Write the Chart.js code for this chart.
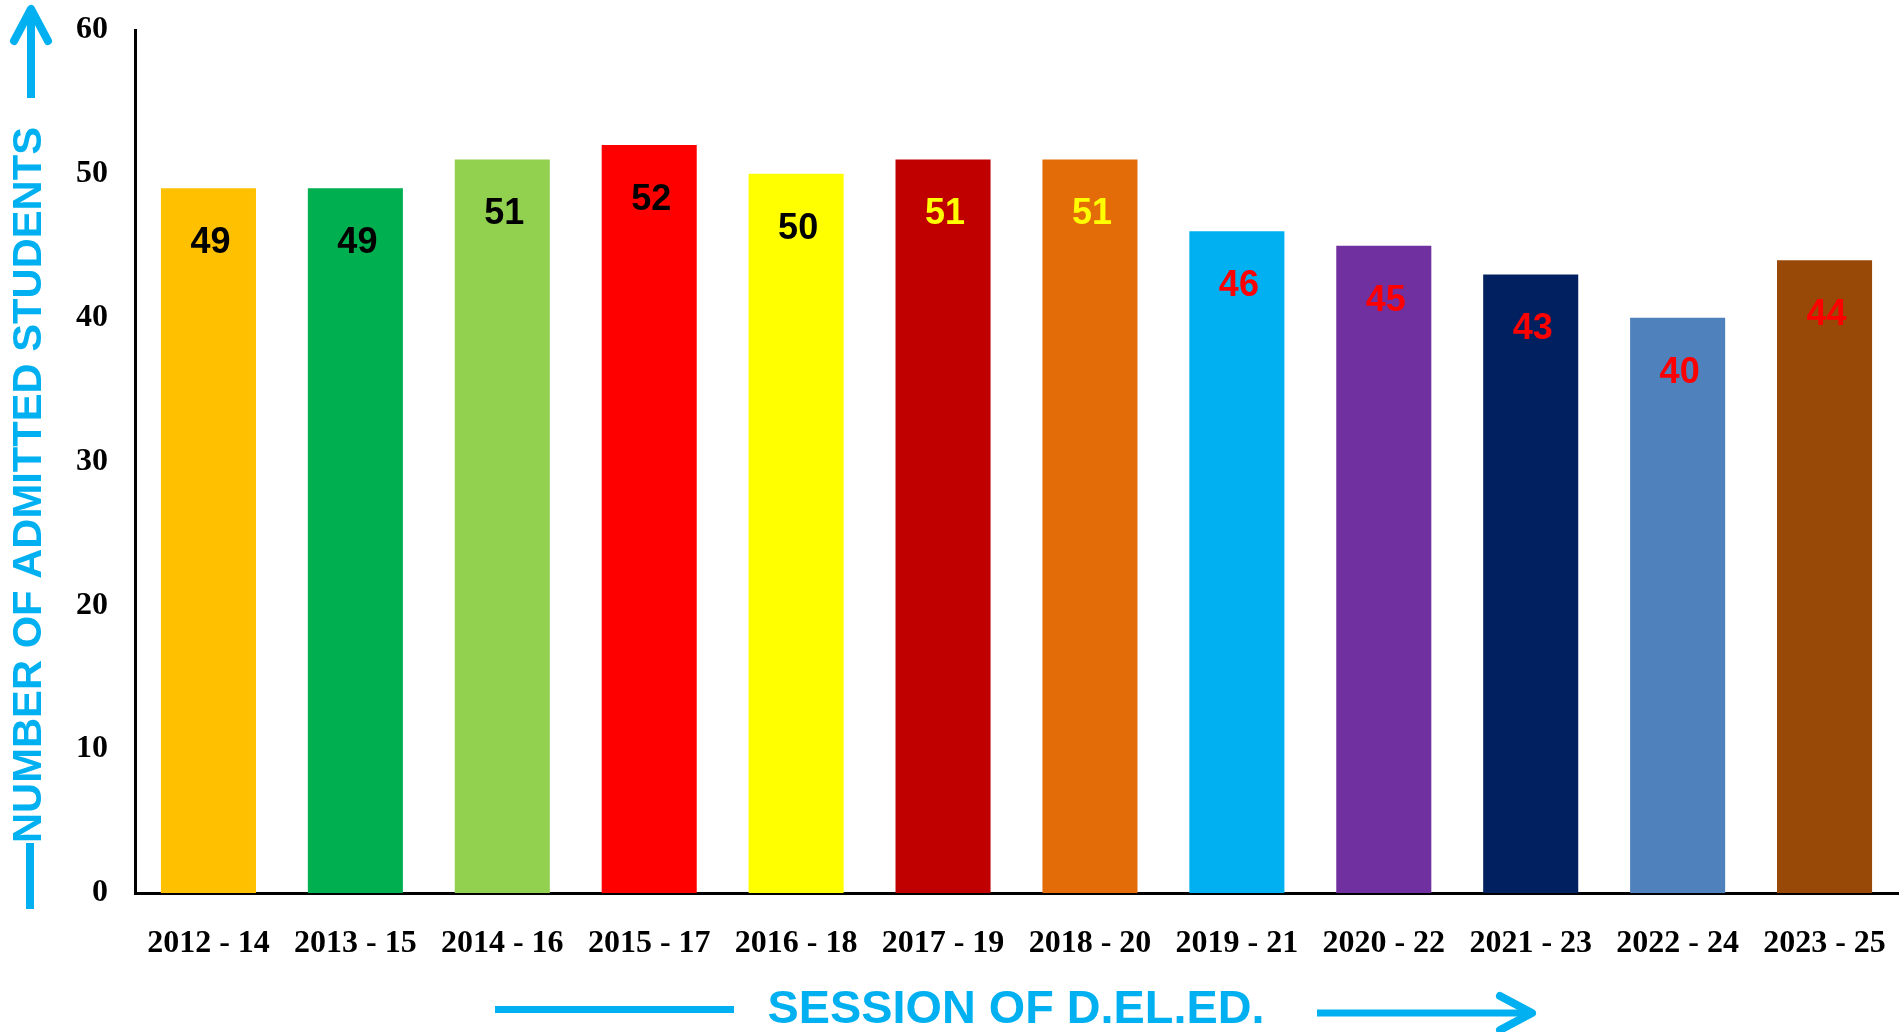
<!DOCTYPE html>
<html><head><meta charset="utf-8"><title>Admitted students per D.El.Ed. session</title>
<script src="https://cdn.jsdelivr.net/npm/chart.js"></script>
<style>
  html, body { margin: 0; padding: 0; background: #ffffff; overflow: hidden; }
  #wrap { position: relative; width: 1900px; height: 1032px; }
</style>
</head>
<body>
<div id="wrap"><canvas id="chart"></canvas></div>
<script>
const sessions = ["2012 - 14", "2013 - 15", "2014 - 16", "2015 - 17", "2016 - 18", "2017 - 19",
                  "2018 - 20", "2019 - 21", "2020 - 22", "2021 - 23", "2022 - 24", "2023 - 25"];
const admitted = [49, 49, 51, 52, 50, 51, 51, 46, 45, 43, 40, 44];
const barColors = ["#FFC000", "#00B050", "#92D050", "#FF0000", "#FFFF00", "#C00000",
                   "#E36C09", "#00B0F0", "#7030A0", "#002060", "#4F81BD", "#984807"];
const labelColors = ["#000000", "#000000", "#000000", "#000000", "#000000", "#FFFF00",
                     "#FFFF00", "#FF0000", "#FF0000", "#FF0000", "#FF0000", "#FF0000"];
const yTitle = "NUMBER OF ADMITTED STUDENTS";
const xTitle = "SESSION OF D.EL.ED.";

const BLUE = "#00B0F0";
const SERIF = "'Liberation Serif', 'Times New Roman', serif";
const SANS = "'Liberation Sans', Arial, sans-serif";

// value labels inside the bars
const valueLabels = {
  id: 'valueLabels',
  afterDatasetsDraw(chart) {
    const ctx = chart.ctx;
    const meta = chart.getDatasetMeta(0);
    ctx.save();
    ctx.font = "bold 36px " + SANS;
    ctx.textAlign = 'center';
    ctx.textBaseline = 'middle';
    meta.data.forEach((bar, i) => {
      ctx.fillStyle = labelColors[i];
      ctx.fillText(String(admitted[i]), bar.x + 2, bar.y + 55);
    });
    ctx.restore();
  }
};

function arrowHead(ctx, x, y, dx, dy) {
  // dx,dy: unit direction the arrow points to
  const len = 32, half = 17;
  const bx = x - dx * len, by = y - dy * len;
  ctx.beginPath();
  ctx.moveTo(bx - dy * half, by + dx * half);
  ctx.lineTo(x, y);
  ctx.lineTo(bx + dy * half, by - dx * half);
  ctx.stroke();
}

// axis titles with blue arrows
const axisTitles = {
  id: 'axisTitles',
  afterDraw(chart) {
    const ctx = chart.ctx;
    ctx.save();
    ctx.fillStyle = BLUE;
    ctx.strokeStyle = BLUE;
    ctx.lineWidth = 8;
    ctx.lineJoin = 'round';

    // y title, rotated
    const yx = 29, yc = 485, yLen = 716;
    ctx.save();
    ctx.translate(yx, yc);
    ctx.rotate(-Math.PI / 2);
    ctx.font = "bold 40px " + SANS;
    const w = ctx.measureText(yTitle).width;
    ctx.scale(yLen / w, 1);
    ctx.textAlign = 'center';
    ctx.textBaseline = 'middle';
    ctx.fillText(yTitle, 0, 1);
    ctx.restore();
    ctx.lineCap = 'butt';
    ctx.beginPath();
    ctx.moveTo(yx + 1, yc + yLen / 2);
    ctx.lineTo(yx + 1, 909);
    ctx.stroke();
    ctx.beginPath();
    ctx.moveTo(yx + 2, yc - yLen / 2 - 29);
    ctx.lineTo(yx + 2, 9);
    ctx.stroke();
    ctx.lineCap = 'round';
    arrowHead(ctx, yx + 2, 9, 0, -1);

    // x title
    const xc = 1016, xy = 1010;
    ctx.font = "bold 47px " + SANS;
    const xw = ctx.measureText(xTitle).width;
    ctx.save();
    ctx.translate(xc, xy);
    ctx.scale(497 / xw, 1);
    ctx.textAlign = 'center';
    ctx.textBaseline = 'middle';
    ctx.fillText(xTitle, 0, 0);
    ctx.restore();
    ctx.lineCap = 'butt';
    ctx.lineWidth = 7;
    ctx.beginPath();
    ctx.moveTo(495, 1009.5);
    ctx.lineTo(734, 1009.5);
    ctx.stroke();
    ctx.beginPath();
    ctx.moveTo(1317, 1013);
    ctx.lineTo(1531, 1013);
    ctx.stroke();
    ctx.lineWidth = 8;
    ctx.lineCap = 'round';
    arrowHead(ctx, 1532, 1013, 1, 0);
    ctx.restore();
  }
};

new Chart(document.getElementById('chart'), {
  type: 'bar',
  data: {
    labels: sessions,
    datasets: [{
      data: admitted,
      backgroundColor: barColors,
      borderWidth: 0,
      barPercentage: 0.647,
      categoryPercentage: 1.0
    }]
  },
  options: {
    responsive: true,
    maintainAspectRatio: false,
    animation: false,
    layout: { padding: { top: 30, right: 2, bottom: 0, left: 0 } },
    plugins: {
      legend: { display: false },
      tooltip: { enabled: false },
      title: { display: false }
    },
    scales: {
      x: {
        grid: { display: false, drawTicks: false },
        border: { display: true, color: '#000000', width: 3 },
        ticks: {
          color: '#000000',
          font: { family: SERIF, size: 32, weight: 'bold' },
          padding: 32,
          maxRotation: 0,
          autoSkip: false
        },
        afterFit(scale) {
          scale.height = 139;
          scale.paddingLeft = 0;
          scale.paddingRight = 0;
        }
      },
      y: {
        min: 0,
        max: 60,
        grid: { display: false, drawTicks: false },
        border: { display: true, color: '#000000', width: 3 },
        ticks: {
          stepSize: 10,
          color: '#000000',
          font: { family: SERIF, size: 32, weight: 'bold' },
          padding: 27
        },
        afterFit(scale) {
          scale.width = 135;
          scale.paddingTop = 0;
          scale.paddingBottom = 0;
        }
      }
    }
  },
  plugins: [valueLabels, axisTitles]
});
</script>
</body></html>
